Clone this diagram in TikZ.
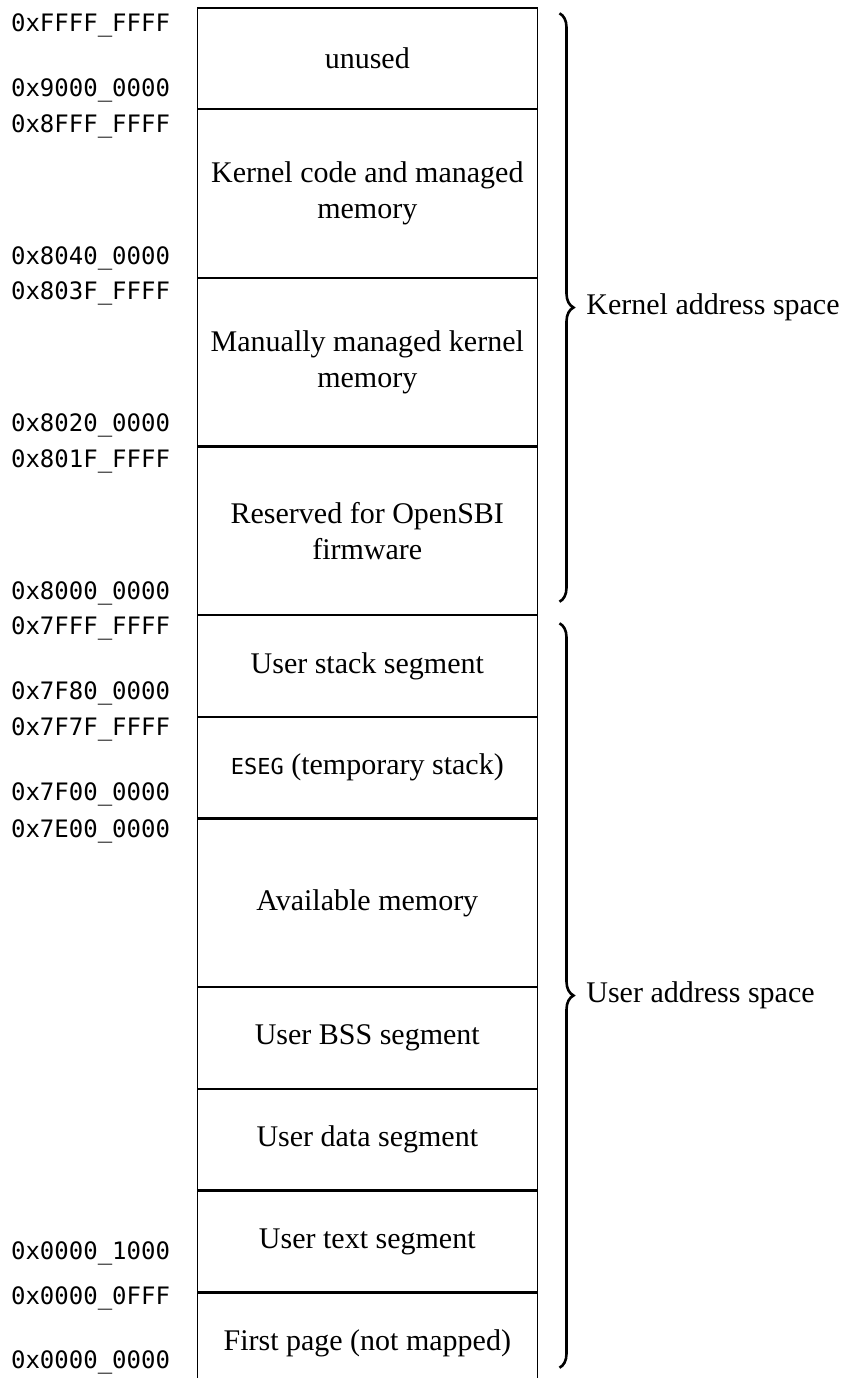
\documentclass[tikz,border=0pt]{standalone}
\usepackage{fontspec}
\setmainfont{Liberation Serif}
\setmonofont{DejaVu Sans Mono}
\usetikzlibrary{decorations.pathreplacing}

\begin{document}
\begin{tikzpicture}[x=0.5pt,y=-0.5pt,
  region/.style={draw, line width=0.6pt, minimum width=170pt, inner sep=0pt,
    align=center, anchor=north, font=\fontsize{15}{18}\selectfont},
  small/.style={region, minimum height=50.25pt},
  big/.style={region, minimum height=83.75pt},
  addr/.style={anchor=base west, inner sep=0pt, font=\fontsize{12}{14}\selectfont\ttfamily},
  span/.style={decorate, decoration={brace, amplitude=7pt}, line width=1.3pt},
  spanlabel/.style={anchor=west, inner sep=0pt, font=\fontsize{15}{18}\selectfont}]

% page area (the lowest region runs past the bottom edge)
\useasboundingbox (0,0) rectangle (845,1378);
\clip (0,0) rectangle (845,1378);

% memory regions, stacked from the top of the address space down
\node[small] (unused)  at (367.3,7.3)       {unused};
\node[big]   (kcode)   at (unused.south)    {Kernel code and managed\\memory};
\node[big]   (kman)    at (kcode.south)     {Manually managed kernel\\memory};
\node[big]   (sbi)     at (kman.south)      {Reserved for OpenSBI\\firmware};
\node[small] (ustack)  at (sbi.south)       {User stack segment};
\node[small] (eseg)    at (ustack.south)    {{\fontsize{11}{13}\selectfont\ttfamily ESEG} (temporary stack)};
\node[big]   (avail)   at (eseg.south)      {Available memory};
\node[small] (bss)     at (avail.south)     {User BSS segment};
\node[small] (udata)   at (bss.south)       {User data segment};
\node[small] (utext)   at (udata.south)     {User text segment};
\node[small] (first)   at (utext.south)     {First page (not mapped)};

% address bounds
\node[addr] (a1)  at (10.7,31.8)   {0xFFFF\_FFFF};
\node[addr] (a2)  at (10.7,96.5)   {0x9000\_0000};
\node[addr] (a3)  at (10.7,132.3)  {0x8FFF\_FFFF};
\node[addr] (a4)  at (10.7,264)    {0x8040\_0000};
\node[addr] (a5)  at (10.7,299.8)  {0x803F\_FFFF};
\node[addr] (a6)  at (10.7,431.5)  {0x8020\_0000};
\node[addr] (a7)  at (10.7,467.3)  {0x801F\_FFFF};
\node[addr] (a8)  at (10.7,599)    {0x8000\_0000};
\node[addr] (a9)  at (10.7,634.8)  {0x7FFF\_FFFF};
\node[addr] (a10) at (10.7,699.5)  {0x7F80\_0000};
\node[addr] (a11) at (10.7,735.3)  {0x7F7F\_FFFF};
\node[addr] (a12) at (10.7,800)    {0x7F00\_0000};
\node[addr] (a13) at (10.7,837)    {0x7E00\_0000};
\node[addr] (a14) at (10.7,1259.3) {0x0000\_1000};
\node[addr] (a15) at (10.7,1304.8) {0x0000\_0FFF};
\node[addr] (a16) at (10.7,1368.5) {0x0000\_0000};

% address space braces
\coordinate (kb-top) at (559.5,13.3);
\coordinate (kb-bot) at (559.5,601.7);
\draw[span] (kb-top) -- (kb-bot);
\node[spanlabel] (kspace) at (586,307.5) {Kernel address space};

\coordinate (ub-top) at (559.5,623.3);
\coordinate (ub-bot) at (559.5,1367.7);
\draw[span] (ub-top) -- (ub-bot);
\node[spanlabel] (uspace) at (586,995.5) {User address space};
\end{tikzpicture}
\end{document}
